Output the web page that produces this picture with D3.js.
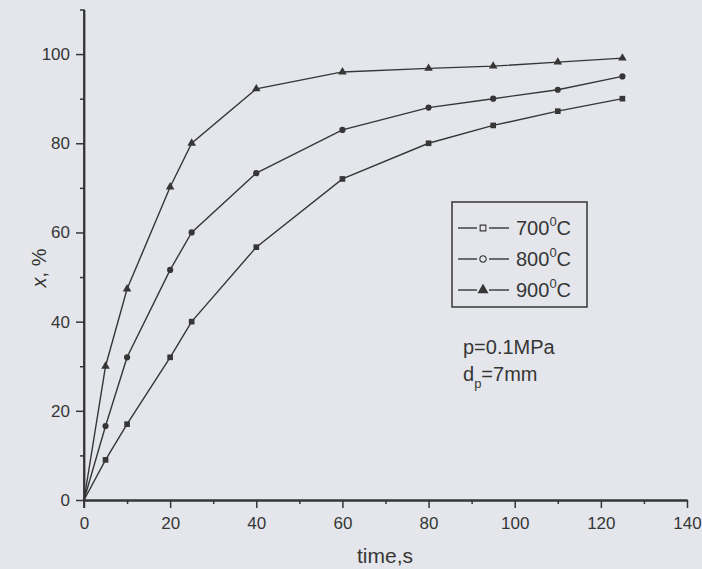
<!DOCTYPE html>
<html>
<head>
<meta charset="utf-8">
<script src="https://cdn.jsdelivr.net/npm/d3@7"></script>
<style>
  body { margin: 0; background: #e4e6eb; }
  svg { display: block; }
  text { font-family: 'Liberation Sans', Arial, sans-serif; }
</style>
</head>
<body>
<div id="chart"></div>
<script>
var times = [0, 5, 10, 20, 25, 40, 60, 80, 95, 110, 125];
var x700 = [0, 9, 17, 32, 40, 56.7, 72, 80, 84, 87.2, 90];
var x800 = [0, 16.6, 32, 51.6, 60, 73.3, 83, 88, 90, 92, 95];
var x900 = [0, 30, 47.3, 70.2, 80, 92.2, 96, 96.8, 97.3, 98.2, 99.1];
var seriesNames = ["700", "800", "900"];
var xTicks = [0, 20, 40, 60, 80, 100, 120, 140];
var yTicks = [0, 20, 40, 60, 80, 100];

var width = 702, height = 569;
var ink = "#363636";

var svg = d3.select("#chart").append("svg")
    .attr("width", width)
    .attr("height", height);

svg.append("rect").attr("width", width).attr("height", height).attr("fill", "#e4e6eb");

var x = d3.scaleLinear().domain([0, 140]).range([84, 687]);
var y = d3.scaleLinear().domain([0, 110]).range([500, 9.5]);

// axes
svg.append("g").attr("transform", "translate(0," + y(0) + ")")
    .call(d3.axisBottom(x).tickValues(xTicks).tickSize(8).tickPadding(9).tickSizeOuter(0));
svg.append("g").attr("transform", "translate(0," + y(0) + ")")
    .call(d3.axisBottom(x).tickValues(d3.range(10, 140, 20)).tickSize(4).tickFormat("").tickSizeOuter(0));

var yAxis = svg.append("g").attr("transform", "translate(" + x(0) + ",0)")
    .call(d3.axisLeft(y).tickValues(yTicks).tickSize(8).tickPadding(6).tickSizeOuter(0));
svg.append("g").attr("transform", "translate(" + x(0) + ",0)")
    .call(d3.axisLeft(y).tickValues(d3.range(10, 111, 20)).tickSize(4).tickFormat("").tickSizeOuter(0));

svg.selectAll("g").attr("font-family", null);
svg.selectAll(".domain").attr("stroke", ink).attr("stroke-width", 1.8);
svg.selectAll(".tick line").attr("stroke", ink).attr("stroke-width", 1.5);
svg.selectAll(".tick text").attr("fill", ink).style("font-size", "17px");
// y axis runs a little below 0
yAxis.select(".domain").attr("d", "M0," + (y(0) + 8) + "V" + y(110));

// lines
var data = [x700, x800, x900];
var line = d3.line()
    .x(function(d, i) { return x(times[i]); })
    .y(function(d) { return y(d); });

svg.selectAll(".series")
    .data(data)
    .enter()
    .append("path")
    .attr("class", "series")
    .attr("d", line)
    .attr("fill", "none")
    .attr("stroke", ink)
    .attr("stroke-width", 1.4);

var symbols = [d3.symbolSquare, d3.symbolCircle, d3.symbolTriangle];
var sizes = [32, 30, 32];

data.forEach(function(vals, s) {
  svg.selectAll(".m" + s)
      .data(vals.slice(1))
      .enter()
      .append("path")
      .attr("class", "m" + s)
      .attr("d", d3.symbol().type(symbols[s]).size(sizes[s]))
      .attr("transform", function(d, i) {
        return "translate(" + x(times[i + 1]) + "," + y(d) + ")";
      })
      .attr("fill", ink);
});

// legend
var legend = svg.append("g");
legend.append("rect")
    .attr("x", 452).attr("y", 202)
    .attr("width", 135).attr("height", 105)
    .attr("fill", "none")
    .attr("stroke", ink)
    .attr("stroke-width", 1.5);

seriesNames.forEach(function(name, s) {
  var ly = 228 + s * 31;
  legend.append("line")
      .attr("x1", 458).attr("x2", 477).attr("y1", ly).attr("y2", ly)
      .attr("stroke", ink).attr("stroke-width", 1.4);
  legend.append("line")
      .attr("x1", 489).attr("x2", 509).attr("y1", ly).attr("y2", ly)
      .attr("stroke", ink).attr("stroke-width", 1.4);
  legend.append("path")
      .attr("d", d3.symbol().type(symbols[s]).size(s == 2 ? 36 : 32))
      .attr("transform", "translate(483," + ly + ")")
      .attr("fill", s == 2 ? ink : "none")
      .attr("stroke", ink)
      .attr("stroke-width", 1.1);
  var t = legend.append("text")
      .attr("x", 516).attr("y", ly + 7)
      .attr("fill", ink)
      .style("font-size", "20px");
  t.append("tspan").text(name);
  t.append("tspan").attr("dy", -9).style("font-size", "13px").text("0");
  t.append("tspan").attr("dy", 9).text("C");
});

// conditions
svg.append("text")
    .attr("x", 463).attr("y", 354)
    .attr("fill", ink)
    .style("font-size", "20px")
    .text("p=0.1MPa");
var dp = svg.append("text")
    .attr("x", 463).attr("y", 381)
    .attr("fill", ink)
    .style("font-size", "20px");
dp.append("tspan").text("d");
dp.append("tspan").attr("dy", 7).style("font-size", "13px").text("p");
dp.append("tspan").attr("dy", -7).text("=7mm");

// axis labels
svg.append("text")
    .attr("x", 385).attr("y", 563)
    .attr("text-anchor", "middle")
    .attr("fill", ink)
    .style("font-size", "21px")
    .text("time,s");

var yl = svg.append("text")
    .attr("transform", "translate(46,268) rotate(-90)")
    .attr("text-anchor", "middle")
    .attr("fill", ink)
    .style("font-size", "20px");
yl.append("tspan").style("font-style", "italic").text("x");
yl.append("tspan").text(", %");
</script>
</body>
</html>
